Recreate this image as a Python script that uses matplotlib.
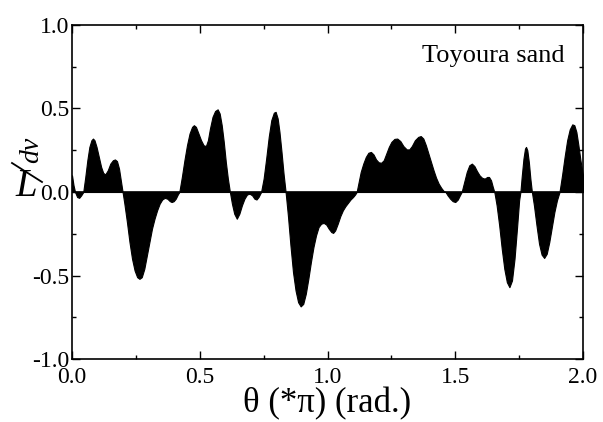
import matplotlib
matplotlib.use("Agg")
import matplotlib.pyplot as plt
from matplotlib.ticker import MultipleLocator, FormatStrFormatter
from matplotlib.lines import Line2D

plt.rcParams['font.family'] = ['Liberation Serif', 'DejaVu Serif']
plt.rcParams['axes.unicode_minus'] = False

theta = [0.000, 0.006, 0.012, 0.020, 0.028, 0.036, 0.044, 0.052, 0.060, 0.068,
         0.076, 0.082, 0.088, 0.096, 0.105, 0.114, 0.122, 0.130, 0.140, 0.150,
         0.160, 0.168, 0.176, 0.184, 0.192, 0.198, 0.205, 0.215, 0.225, 0.235,
         0.245, 0.255, 0.264, 0.273, 0.283, 0.293, 0.303, 0.313, 0.323, 0.333,
         0.343, 0.353, 0.363, 0.373, 0.383, 0.390, 0.398, 0.406, 0.414, 0.420,
         0.430, 0.440, 0.450, 0.460, 0.470, 0.477, 0.485, 0.495, 0.505, 0.515,
         0.524, 0.532, 0.540, 0.550, 0.560, 0.570, 0.578, 0.586, 0.594, 0.602,
         0.610, 0.618, 0.626, 0.635, 0.645, 0.655, 0.665, 0.675, 0.685, 0.695,
         0.705, 0.714, 0.722, 0.730, 0.740, 0.750, 0.760, 0.770, 0.780, 0.790,
         0.797, 0.805, 0.812, 0.820, 0.828, 0.836, 0.845, 0.855, 0.865, 0.875,
         0.885, 0.895, 0.905, 0.915, 0.925, 0.935, 0.945, 0.955, 0.965, 0.975,
         0.985, 0.995, 1.005, 1.015, 1.022, 1.030, 1.040, 1.050, 1.060, 1.070,
         1.080, 1.090, 1.100, 1.108, 1.114, 1.122, 1.130, 1.140, 1.150, 1.160,
         1.170, 1.180, 1.190, 1.200, 1.210, 1.220, 1.230, 1.240, 1.250, 1.262,
         1.273, 1.285, 1.297, 1.310, 1.320, 1.330, 1.342, 1.355, 1.365, 1.375,
         1.385, 1.395, 1.405, 1.415, 1.425, 1.435, 1.445, 1.455, 1.462, 1.470,
         1.480, 1.490, 1.500, 1.510, 1.518, 1.525, 1.535, 1.545, 1.555, 1.565,
         1.575, 1.585, 1.595, 1.605, 1.615, 1.625, 1.632, 1.640, 1.647, 1.653,
         1.662, 1.672, 1.682, 1.692, 1.702, 1.712, 1.722, 1.732, 1.742, 1.750,
         1.755, 1.760, 1.767, 1.773, 1.777, 1.782, 1.788, 1.794, 1.800, 1.808,
         1.818, 1.828, 1.838, 1.848, 1.858, 1.868, 1.878, 1.888, 1.898, 1.908,
         1.918, 1.928, 1.938, 1.948, 1.958, 1.966, 1.974, 1.982, 1.990, 2.000]
value = [0.10, 0.04, 0.00, -0.03, -0.035, -0.02, 0.00, 0.09, 0.19, 0.27,
         0.31, 0.32, 0.31, 0.27, 0.21, 0.15, 0.115, 0.105, 0.13, 0.17,
         0.19, 0.195, 0.185, 0.14, 0.06, 0.00, -0.07, -0.18, -0.30, -0.40,
         -0.47, -0.51, -0.52, -0.51, -0.46, -0.38, -0.30, -0.22, -0.16, -0.11,
         -0.07, -0.045, -0.035, -0.04, -0.055, -0.06, -0.055, -0.04, -0.015, 0.00,
         0.09, 0.19, 0.28, 0.35, 0.39, 0.40, 0.39, 0.35, 0.31, 0.28,
         0.275, 0.31, 0.38, 0.45, 0.485, 0.495, 0.47, 0.40, 0.30, 0.18,
         0.08, 0.00, -0.07, -0.13, -0.16, -0.13, -0.08, -0.04, -0.015, -0.01,
         -0.02, -0.04, -0.045, -0.03, 0.00, 0.08, 0.20, 0.33, 0.43, 0.475,
         0.48, 0.44, 0.36, 0.24, 0.11, 0.00, -0.14, -0.32, -0.48, -0.59,
         -0.66, -0.685, -0.67, -0.61, -0.52, -0.42, -0.33, -0.26, -0.21, -0.19,
         -0.185, -0.195, -0.22, -0.24, -0.245, -0.23, -0.19, -0.145, -0.11, -0.085,
         -0.065, -0.045, -0.03, -0.015, 0.00, 0.06, 0.12, 0.17, 0.21, 0.235,
         0.24, 0.225, 0.195, 0.178, 0.175, 0.19, 0.23, 0.27, 0.30, 0.318,
         0.32, 0.305, 0.275, 0.255, 0.255, 0.275, 0.31, 0.33, 0.335, 0.32,
         0.28, 0.23, 0.18, 0.13, 0.085, 0.05, 0.025, 0.005, 0.00, -0.02,
         -0.04, -0.055, -0.06, -0.045, -0.02, 0.00, 0.06, 0.12, 0.16, 0.17,
         0.155, 0.125, 0.10, 0.085, 0.08, 0.09, 0.09, 0.07, 0.03, 0.00,
         -0.08, -0.20, -0.34, -0.46, -0.54, -0.57, -0.53, -0.40, -0.21, -0.05,
         0.00, 0.09, 0.20, 0.26, 0.27, 0.25, 0.18, 0.08, 0.00, -0.08,
         -0.20, -0.31, -0.375, -0.395, -0.37, -0.30, -0.21, -0.12, -0.05, 0.00,
         0.10, 0.21, 0.31, 0.375, 0.405, 0.40, 0.36, 0.28, 0.19, 0.10]

xticks = [0.0, 0.5, 1.0, 1.5, 2.0]
yticks = [-1.0, -0.5, 0.0, 0.5, 1.0]

W, H = 603, 422
fig = plt.figure(figsize=(W / 100, H / 100), dpi=100)
ax = fig.add_axes([72 / W, 1 - 359 / H, (583 - 72) / W, (359 - 25) / H])

ax.fill_between(theta, value, 0, color='black', linewidth=0.8, edgecolor='black')
ax.axhline(0, color='black', linewidth=1.2)

ax.set_xlim(0, 2.0)
ax.set_ylim(-1.0, 1.0)
ax.set_xticks(xticks)
ax.set_yticks(yticks)
ax.xaxis.set_minor_locator(MultipleLocator(0.25))
ax.yaxis.set_minor_locator(MultipleLocator(0.25))
ax.xaxis.set_major_formatter(FormatStrFormatter('%.1f'))
ax.yaxis.set_major_formatter(FormatStrFormatter('%.1f'))
ax.tick_params(which='both', direction='in', top=True, right=True, width=1.0)
ax.tick_params(which='major', length=6, labelsize=17)
ax.tick_params(axis='x', which='major', pad=6)
ax.tick_params(axis='y', which='major', pad=2)
ax.tick_params(which='minor', length=3)
for s in ax.spines.values():
    s.set_linewidth(1.2)

ax.set_xlabel('θ (*π) (rad.)', fontsize=25, labelpad=-1)

ax.text(0.965, 0.94, 'Toyoura sand', transform=ax.transAxes, ha='right', va='top',
        fontsize=19)

# garbled y-axis label: upright "L", slash, rotated "dv"
fig.text(26 / W, 1 - 186 / H, 'L', fontsize=28, style='italic', ha='center', va='center')
fig.add_artist(Line2D([12 / W, 42 / W], [1 - 163 / H, 1 - 182 / H], color='black',
                      linewidth=1.3, transform=fig.transFigure))
fig.text(32 / W, 1 - 150 / H, 'dv', fontsize=20, style='italic', rotation=90,
         ha='center', va='center')

fig.savefig('out.png', dpi=100)
